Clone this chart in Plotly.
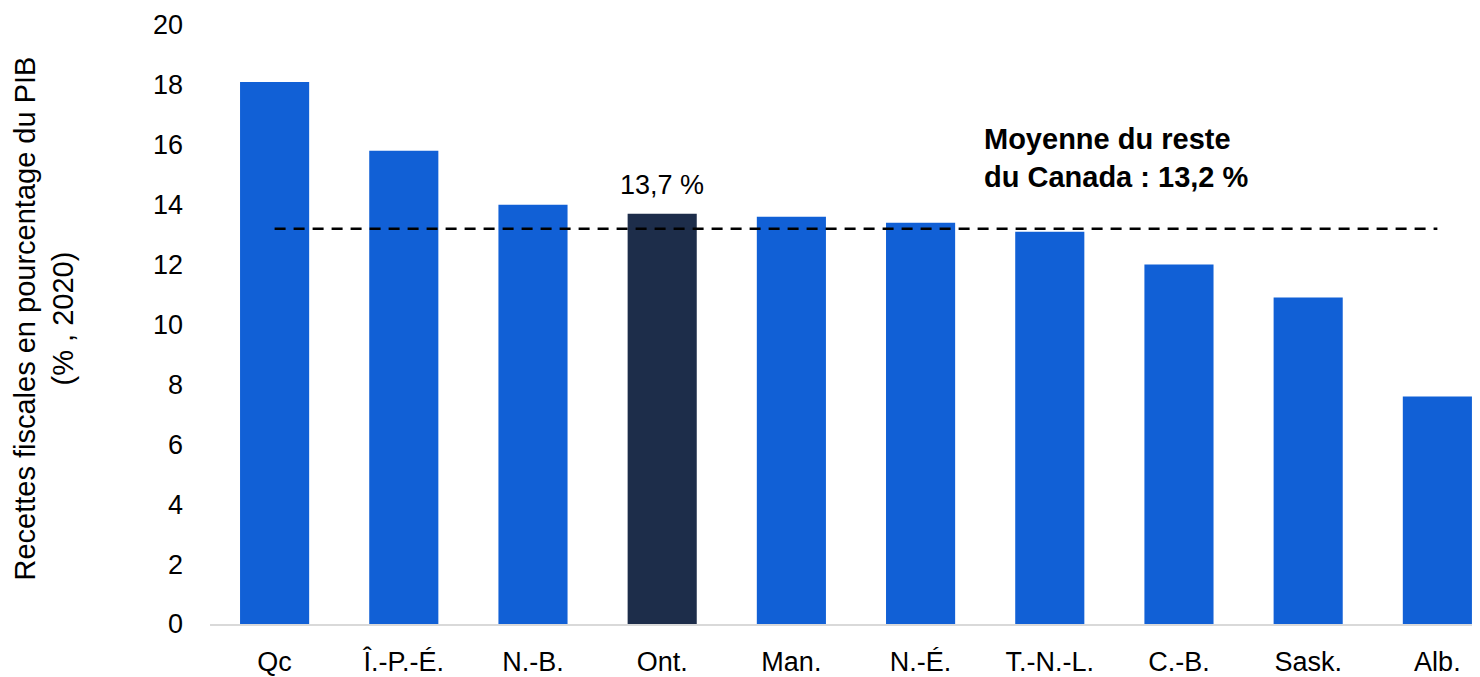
import plotly.graph_objects as go

provinces = ["Qc", "Î.-P.-É.", "N.-B.", "Ont.", "Man.", "N.-É.", "T.-N.-L.", "C.-B.", "Sask.", "Alb."]
values = [18.1, 15.8, 14.0, 13.7, 13.6, 13.4, 13.1, 12.0, 10.9, 7.6]
average_rest = 13.2
highlight = "Ont."
y_title = "Recettes fiscales en pourcentage du PIB<br>(% , 2020)"
avg_label = "<b>Moyenne du reste<br>du Canada : 13,2 %</b>"
ont_label = "13,7 %"

blue = "#1160D6"
dark = "#1D2D4A"
colors = [dark if p == highlight else blue for p in provinces]

font_family = "Liberation Sans, Arial, sans-serif"

fig = go.Figure()
fig.add_trace(go.Bar(
    x=provinces, y=values, marker=dict(color=colors, line=dict(width=0)),
    width=0.535, showlegend=False, hoverinfo="x+y"))
fig.add_trace(go.Scatter(
    x=provinces, y=[average_rest] * len(provinces), mode="lines",
    line=dict(color="black", width=2.5, dash="11px,8px"), showlegend=False))

fig.add_annotation(x=highlight, y=values[provinces.index(highlight)], yshift=12,
                   text=ont_label, showarrow=False, yanchor="bottom",
                   font=dict(size=27, color="black", family=font_family))
fig.add_annotation(x=5.475, y=15.56, xanchor="left", yanchor="middle", align="left",
                   text=avg_label, showarrow=False,
                   font=dict(size=29, color="black", family=font_family))
fig.add_annotation(xref="paper", yref="paper", x=0, y=0.51, xshift=-166,
                   xanchor="center", yanchor="middle", textangle=-90,
                   text=y_title, showarrow=False,
                   font=dict(size=29, color="black", family=font_family))

fig.update_layout(
    width=1480, height=677,
    margin=dict(l=202, r=8, t=17, b=61),
    plot_bgcolor="white", paper_bgcolor="white",
    font=dict(family=font_family, size=27, color="black"),
    xaxis=dict(range=[-0.5, 9.33], showgrid=False, showline=True, linecolor="#d9d9d9",
               linewidth=2, ticks="", tickfont=dict(size=27), ticklabelstandoff=13,
               automargin=False),
    yaxis=dict(range=[0, 20], dtick=2, showgrid=False, zeroline=False, showline=False,
               tickfont=dict(size=27), ticklabelstandoff=26, automargin=False),
)

fig.write_html("out.html")
